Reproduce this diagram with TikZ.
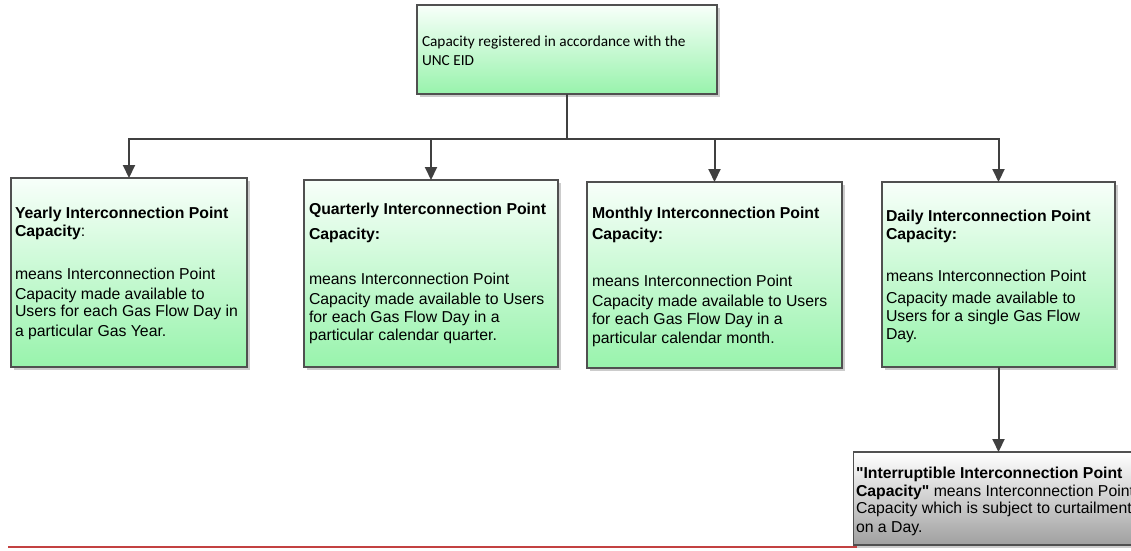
\documentclass[tikz,border=0pt]{standalone}
\usepackage{fontspec}
\newfontfamily\arialf{Liberation Sans}
\newfontfamily\carlito{Carlito}
\usetikzlibrary{arrows.meta,shadows}
\definecolor{gtop}{RGB}{248,255,250}
\definecolor{gbot}{RGB}{152,243,172}
\definecolor{edgec}{RGB}{80,80,80}
\definecolor{connc}{RGB}{64,64,64}
\definecolor{rulec}{RGB}{195,65,65}
\definecolor{greybot}{RGB}{160,160,160}
\begin{document}
\begin{tikzpicture}[x=1pt,y=-1pt,
  boxbase/.style={draw=edgec, line width=1.2pt, inner sep=0pt, outer sep=0pt,
    drop shadow={shadow xshift=3pt, shadow yshift=-3pt, fill=black!20, opacity=1}},
  greenbox/.style={boxbase, top color=gtop, bottom color=gbot},
  greybox/.style={boxbase, top color=white, bottom color=greybot},
  txt/.style={anchor=north west, inner sep=0pt, outer sep=0pt, align=left,
    font=\arialf\fontsize{15.8}{19}\selectfont},
  toptxt/.style={anchor=north west, inner sep=0pt, outer sep=0pt, align=left,
    font=\carlito\fontsize{15.3}{18.4}\selectfont},
  conn/.style={draw=connc, line width=2pt},
  arr/.style={conn, -{Triangle[length=13pt,width=12pt]}}]
\useasboundingbox (0,0) rectangle (1131,550);
\clip (0,0) rectangle (1131,550);
\fill[white] (0,0) rectangle (1131,550);
% bottom rule
\draw[rulec, line width=1.5pt] (8,547) -- (1131,547);
% boxes
\node[greenbox, minimum width=300pt, minimum height=89pt] (top) at (567,49.5) {};
\node[greenbox, minimum width=236pt, minimum height=189pt] (b1) at (129,272.5) {};
\node[greenbox, minimum width=254pt, minimum height=187pt] (b2) at (431,273.5) {};
\node[greenbox, minimum width=255pt, minimum height=186pt] (b3) at (714.5,275) {};
\node[greenbox, minimum width=233pt, minimum height=185pt] (b4) at (998.5,274.5) {};
\node[greybox, minimum width=290pt, minimum height=93pt] (b5) at (998.5,498.5) {};
% texts
\node[toptxt] (ttop) at (422,32.6) {\rule{0pt}{14pt}Capacity registered in accordance with the\\UNC EID};
\node[txt] (t1) at (15,204) {\rule{0pt}{14pt}\textbf{Yearly Interconnection Point}\\[-0.6pt]\textbf{Capacity}:\\[24.3pt]means Interconnection Point\\[1pt]Capacity made available to\\[-2pt]Users for each Gas Flow Day in\\[0.6pt]a particular Gas Year.};
\node[txt] (t2) at (309,200.7) {\rule{0pt}{14pt}\textbf{Quarterly Interconnection Point}\\[6pt]\textbf{Capacity:}\\[26pt]means Interconnection Point\\[0.3pt]Capacity made available to Users\\[-1pt]for each Gas Flow Day in a\\[-0.5pt]particular calendar quarter.};
\node[txt] (t3) at (592,204) {\rule{0pt}{14pt}\textbf{Monthly Interconnection Point}\\[2.7pt]\textbf{Capacity:}\\[27.7pt]means Interconnection Point\\[1pt]Capacity made available to Users\\[-0.7pt]for each Gas Flow Day in a\\[-0.7pt]particular calendar month.};
\node[txt] (t4) at (886,207.4) {\rule{0pt}{14pt}\textbf{Daily Interconnection Point}\\[-0.7pt]\textbf{Capacity:}\\[22.7pt]means Interconnection Point\\[2.6pt]Capacity made available to\\[-0.6pt]Users for a single Gas Flow\\[-0.7pt]Day.};
\node[txt, font=\arialf\fontsize{15.8}{18.3}\selectfont] (t5) at (856,464) {\rule{0pt}{14pt}\textbf{"Interruptible Interconnection Point}\\\textbf{Capacity"} means Interconnection Point\\[-1.5pt]Capacity which is subject to curtailment\\[1.5pt]on a Day.};
% connectors
\coordinate (hub) at (567,139);
\draw[conn] (top.south) -- (hub);
\draw[arr] (hub) -| (b1.north);
\draw[arr] (hub) -| (b2.north);
\draw[arr] (hub) -| (b3.north);
\draw[arr] (hub) -| (b4.north);
\draw[arr] (b4.south) -- (b5.north);
\end{tikzpicture}
\end{document}
